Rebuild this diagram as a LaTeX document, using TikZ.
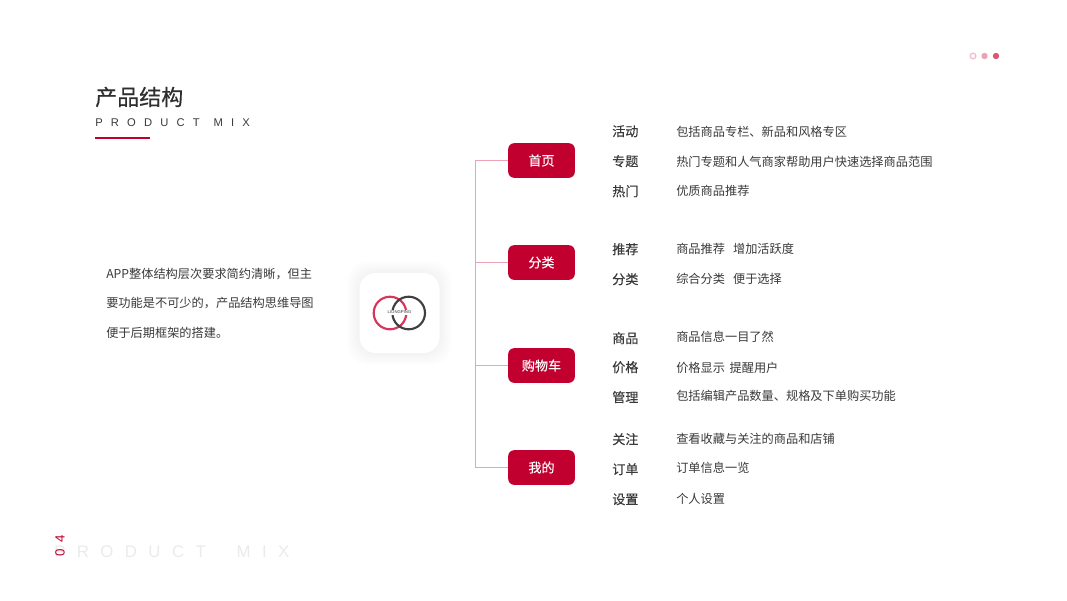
\documentclass[tikz,border=0pt]{standalone}
\usepackage{fontspec}
\setmainfont{Noto Sans CJK SC}
\newfontfamily\latinfont{Liberation Sans}
\usepackage{xcolor}
\usetikzlibrary{positioning,calc}
\definecolor{crimson}{HTML}{C1002F}
\definecolor{linkpink}{HTML}{EBA3B5}
\definecolor{inktext}{HTML}{3A3A3A}
\definecolor{ghostgray}{HTML}{EBEBEB}
\definecolor{ringred}{HTML}{D8345C}
\begin{document}
\begin{tikzpicture}[
    x=0.75pt, y=-0.75pt,
    every node/.style={inner sep=0pt, text=inktext},
    navbox/.style={fill=crimson, rounded corners=4.5pt, minimum width=50pt, minimum height=26pt, text=white, font=\fontsize{9.8pt}{12pt}\selectfont\addfontfeature{FakeBold=0.12}},
    itemname/.style={anchor=west, font=\fontsize{9.8pt}{12pt}\selectfont\addfontfeature{FakeBold=0.2}, text height=8.5pt, text depth=1.5pt},
    itemdesc/.style={anchor=west, font=\fontsize{9.15pt}{12pt}\selectfont, text height=8pt, text depth=1.5pt},
    link/.style={draw=linkpink, line width=0.75pt},
    softshade/.style={fill=black, opacity=0.004, rounded corners=15pt}
]
\useasboundingbox (0,0) rectangle (1067,600);
\fill[white] (0,0) rectangle (1067,600);

% heading
\node[anchor=west, font=\fontsize{16.5pt}{20pt}\selectfont\addfontfeature{FakeBold=0.35}, text=black!82] (title) at (95,97) {产品结构};
\node[anchor=west, font=\latinfont\fontsize{8.4pt}{11pt}\selectfont\addfontfeature{LetterSpace=73}] (subtitle) at (95,123) {PRODUCT\hspace{2pt} MIX};
\draw[crimson, line width=1.5pt] (95,137.5) -- (150,137.5);

% page dots
\node[circle, draw=linkpink!70, line width=1pt, minimum size=4.2pt] (dotA) at (973,56) {};
\node[circle, fill=linkpink, minimum size=4.8pt] (dotB) at (984.5,56) {};
\node[circle, fill=crimson!55!pink, minimum size=4.8pt] (dotC) at (996,56) {};

% footer
\node[anchor=west, font=\latinfont\fontsize{12.6pt}{15pt}\selectfont\addfontfeature{LetterSpace=68}, text=ghostgray] (ghost) at (54,552) {PRODUCT\hspace{11pt} MIX};
\node[rotate=90, font=\latinfont\fontsize{10pt}{12pt}\selectfont\addfontfeature{LetterSpace=50}, text=crimson] (pageno) at (60,546) {04};

% intro text
\node[anchor=west, align=left, font=\fontsize{9.15pt}{22.1pt}\selectfont] (intro) at (106,303) {APP整体结构层次要求简约清晰，但主\\要功能是不可少的，产品结构思维导图\\便于后期框架的搭建。};

% logo
\foreach \grow in {1,...,12}
    \fill[softshade] ($(359,273)-(\grow,\grow)$) rectangle ($(440,353)+(\grow,\grow)$);
\node[fill=white, rounded corners=12pt, minimum width=60pt, minimum height=60pt] (logo) at (399.5,313) {};
\draw[ringred, line width=1.6pt] (390,313) circle (16.3);
\draw[black!75, line width=1.6pt] (408.7,313) circle (16.3);
\node[fill=white, inner xsep=1pt, inner ysep=0.5pt, font=\latinfont\fontsize{3.2pt}{4pt}\selectfont] (logotext) at (399.5,312.5) {LIONGPING};

% nav boxes
\node[navbox] (home) at (541.5,160.5) {\raisebox{-0.7pt}{首页}};
\node[navbox] (sort) at (541.5,262.5) {\raisebox{-0.7pt}{分类}};
\node[navbox] (cart) at (541.5,365.5) {\raisebox{-0.7pt}{购物车}};
\node[navbox] (mine) at (541.5,467.5) {\raisebox{-0.7pt}{我的}};
\coordinate (trunk) at (475,160.5);
\draw[link] (home.west) -- (trunk) |- (mine.west);
\draw[link] (trunk |- sort) -- (sort.west);
\draw[link] (trunk |- cart) -- (cart.west);

% items
\foreach \nm/\yn/\txt/\yd/\dsc in {
    a/131.5/活动/132/包括商品专栏、新品和风格专区,
    b/161.5/专题/162/热门专题和人气商家帮助用户快速选择商品范围,
    c/191.5/热门/191/优质商品推荐,
    d/249.5/推荐/249/商品推荐\hspace{6pt}增加活跃度,
    e/279.5/分类/279/综合分类\hspace{6pt}便于选择,
    f/338.5/商品/337/商品信息一目了然,
    g/367.5/价格/368/价格显示\hspace{3.4pt}提醒用户,
    h/397.5/管理/396/包括编辑产品数量、规格及下单购买功能,
    i/439.5/关注/439/查看收藏与关注的商品和店铺,
    j/469.5/订单/468/订单信息一览,
    k/499.5/设置/499/个人设置}{
    \node[itemname] (name\nm) at (612,\yn) {\txt};
    \node[itemdesc] (desc\nm) at (676,\yd) {\dsc};
}
\end{tikzpicture}
\end{document}
